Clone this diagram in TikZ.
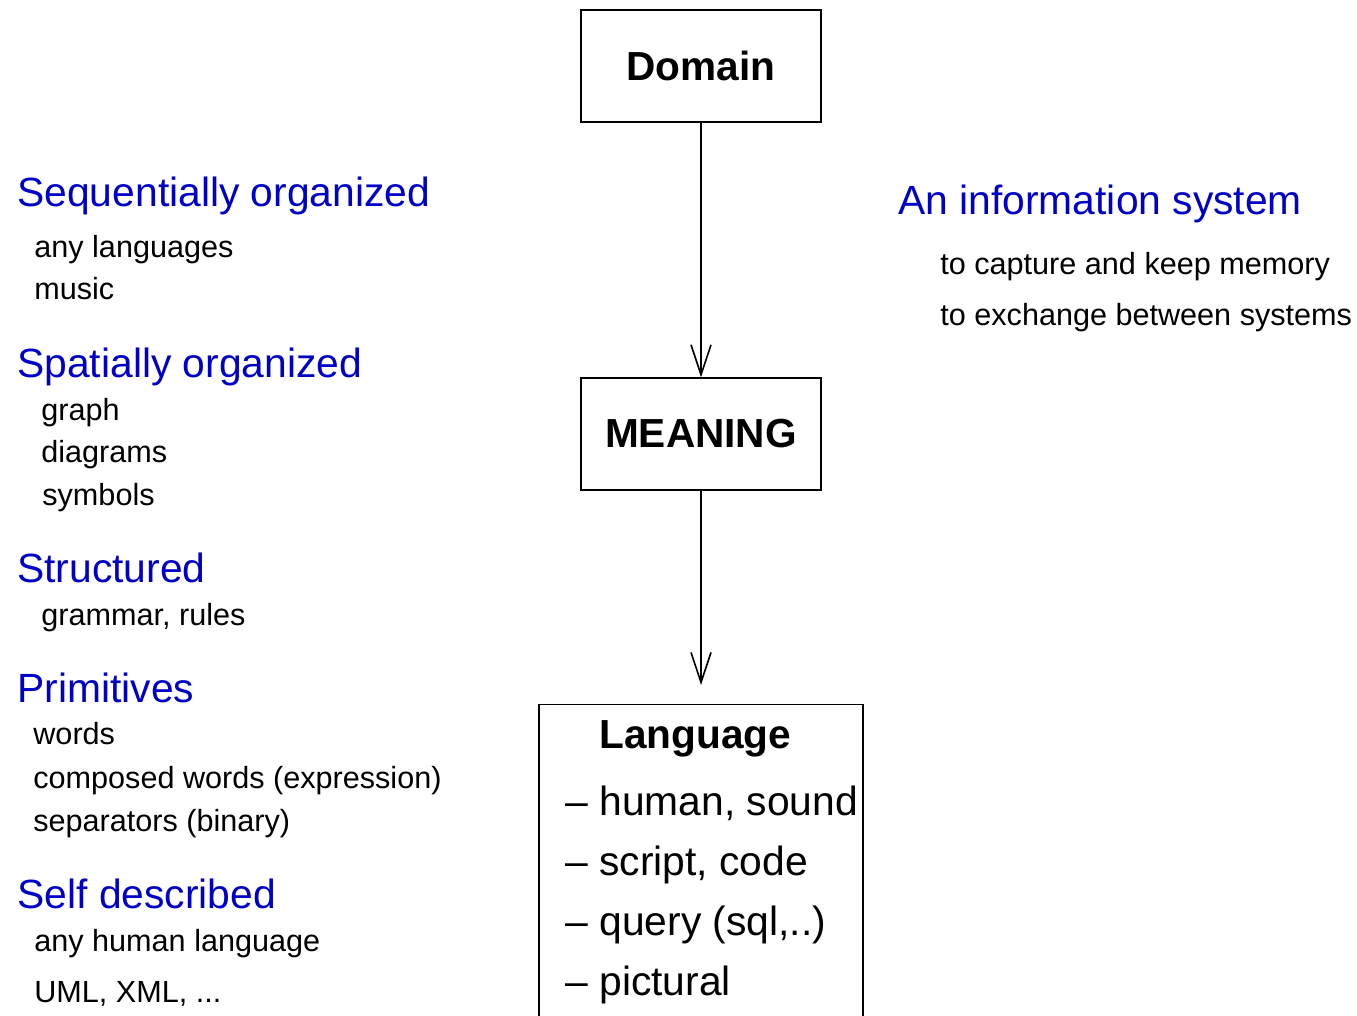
\documentclass[tikz,border=0pt]{standalone}
\usepackage{fontspec}
\setmainfont{Liberation Sans}
\usetikzlibrary{arrows.meta}
\definecolor{headblue}{RGB}{0,0,200}
\tikzset{
  box/.style={draw=black, line width=0.7pt, inner sep=0pt},
  boxtitle/.style={font=\fontsize{20.3pt}{24pt}\selectfont\bfseries},
  head/.style={anchor=base west, inner sep=0pt, text=headblue, font=\fontsize{20.4pt}{24pt}\selectfont},
  item/.style={anchor=base west, inner sep=0pt, font=\fontsize{15.3pt}{18pt}\selectfont},
  listitem/.style={anchor=base west, inner sep=0pt, font=\fontsize{20.4pt}{24pt}\selectfont},
  flow/.style={line width=0.7pt, -{Straight Barb[length=15pt,width=10pt,line width=0.8pt]}}
}
\begin{document}
\begin{tikzpicture}[x=0.5pt, y=-0.5pt]
\useasboundingbox (0,0) rectangle (1357,1016);
\clip (0,0) rectangle (1357,1016);

% central chain
\node[box, boxtitle, minimum width=120pt, minimum height=56pt] (domain) at (701,66) {Domain};
\node[box, boxtitle, minimum width=120pt, minimum height=56pt] (meaning) at (701,434) {MEANING\hspace{7pt}};
\node[box, minimum width=162pt, minimum height=170pt, anchor=north] (language) at (701,704) {};
\coordinate (langin) at (701,685);

\draw[flow] (domain.south) -- (meaning.north);
\draw[flow] (meaning.south) -- (langin);

% contents of the language box
\node[anchor=base west, inner sep=0pt, boxtitle] (langtitle) at (599,748) {Language};
\node[listitem] (l1) at (565,815) {– human, sound};
\node[listitem] (l2) at (565,875) {– script, code};
\node[listitem] (l3) at (565,935) {– query (sql,..)};
\node[listitem] (l4) at (565,995) {– pictural};

% left column
\node[head] (seq) at (17,207) {Sequentially organized};
\node[item] (seq1) at (34,258) {any languages};
\node[item] (seq2) at (34,300) {music};

\node[head] (spa) at (17,378) {Spatially organized};
\node[item] (spa1) at (41,421) {graph};
\node[item] (spa2) at (41,463) {diagrams};
\node[item] (spa3) at (42,506) {symbols};

\node[head] (str) at (17,583) {Structured};
\node[item] (str1) at (41,625) {grammar, rules};

\node[head] (pri) at (17,703) {Primitives};
\node[item] (pri1) at (33,745) {words};
\node[item] (pri2) at (33,788) {composed words (expression)};
\node[item] (pri3) at (33,831) {separators (binary)};

\node[head] (self) at (17,908) {Self described};
\node[item] (self1) at (34,951) {any human language};
\node[item] (self2) at (34,1002) {UML, XML, ...};

% right column
\node[head] (info) at (898,215) {An information system};
\node[item] (info1) at (940,275) {to capture and keep memory};
\node[item] (info2) at (940,326) {to exchange between systems};
\end{tikzpicture}
\end{document}
